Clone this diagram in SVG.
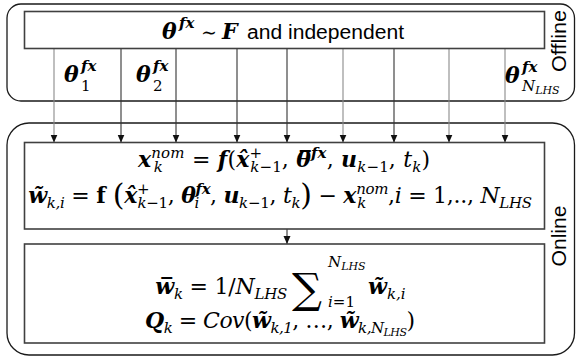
<svg xmlns="http://www.w3.org/2000/svg" width="576" height="358" viewBox="0 0 576 358">
<style>
.panel{fill:none;stroke:#1a1a1a;stroke-width:1.3}
.box{fill:#fff;stroke:#404040;stroke-width:1.6}
.conn{stroke:#333;stroke-width:1.1;fill:none}
.conn.g{stroke:#8a8a8a}
.m{font-family:"DejaVu Serif","Liberation Serif",serif;font-size:22px;fill:#000}
.bi{font-weight:bold;font-style:italic}
.b{font-weight:bold}
.i{font-style:italic}
.n{font-style:normal;font-weight:normal}
.s{font-size:15px}
.ss{font-size:11px}
.big{font-size:30px}
.side{font-family:"Liberation Sans",Arial,sans-serif;font-size:20px;fill:#000}
</style>
<defs>
<marker id="ah" markerUnits="userSpaceOnUse" markerWidth="8" markerHeight="8" viewBox="0 0 8 8" refX="8" refY="4" orient="auto">
<path d="M0,0.5 L8,4 L0,7.5 Z" fill="#111"/>
</marker>
</defs>

<g id="offline-panel">
<rect class="panel" x="7" y="4" width="567.5" height="97" rx="14"/>
<text class="side" transform="translate(566,41) rotate(-90)" text-anchor="middle" textLength="62" lengthAdjust="spacingAndGlyphs">Offline</text>
</g>

<g id="online-panel">
<rect class="panel" x="7" y="123" width="567.5" height="232" rx="22"/>
<text class="side" transform="translate(566,236) rotate(-90)" text-anchor="middle" textLength="61" lengthAdjust="spacingAndGlyphs">Online</text>
</g>

<g id="connectors">
<line class="conn g" x1="54" y1="48.5" x2="54" y2="142.5" marker-end="url(#ah)"/>
<line class="conn" x1="121" y1="48.5" x2="121" y2="142.5" marker-end="url(#ah)"/>
<line class="conn" x1="176" y1="48.5" x2="176" y2="142.5" marker-end="url(#ah)"/>
<line class="conn" x1="237" y1="48.5" x2="237" y2="142.5" marker-end="url(#ah)"/>
<line class="conn" x1="287" y1="48.5" x2="287" y2="142.5" marker-end="url(#ah)"/>
<line class="conn g" x1="343" y1="48.5" x2="343" y2="142.5" marker-end="url(#ah)"/>
<line class="conn" x1="394" y1="48.5" x2="394" y2="142.5" marker-end="url(#ah)"/>
<line class="conn g" x1="449" y1="48.5" x2="449" y2="142.5" marker-end="url(#ah)"/>
<line class="conn g" x1="505" y1="48.5" x2="505" y2="142.5" marker-end="url(#ah)"/>
<line class="conn" x1="287" y1="229" x2="287" y2="244" marker-end="url(#ah)"/>
</g>

<g id="sampling-box">
<rect class="box" x="24.5" y="11.5" width="520" height="37"/>
<text class="m bi" x="162" y="39">θ</text>
<text class="m s bi" x="179" y="28">fx</text>
<text class="m" x="201" y="39" style="font-size:19px">∼</text>
<text class="m bi" x="222" y="39">F</text>
<text class="side" x="247" y="39" textLength="157" lengthAdjust="spacingAndGlyphs">and independent</text>
</g>

<g id="sample-labels">
<text class="m bi" x="64" y="82">θ</text>
<text class="m s bi" x="81" y="71">fx</text>
<text class="m s" x="81" y="91">1</text>
<text class="m bi" x="136" y="82">θ</text>
<text class="m s bi" x="153" y="71">fx</text>
<text class="m s" x="153" y="91">2</text>
<text class="m bi" x="505" y="83">θ</text>
<text class="m s bi" x="522" y="72">fx</text>
<text class="m s i" x="522" y="91">N<tspan class="ss" dy="3">LHS</tspan></text>
</g>

<g id="nominal-box">
<rect class="box" x="24.5" y="142.5" width="520" height="86.5"/>
<text class="m" x="284" y="167" text-anchor="middle" textLength="292" lengthAdjust="spacing"><tspan class="bi">x</tspan><tspan class="s i" dy="-9">nom</tspan><tspan class="s i" dx="-31" dy="14">k</tspan><tspan dx="22" dy="-5"> = </tspan><tspan class="bi">f</tspan><tspan>(</tspan><tspan class="bi">x̂</tspan><tspan class="s" dy="-9">+</tspan><tspan class="s i" dx="-12" dy="14">k</tspan><tspan class="s">−1</tspan><tspan dy="-5">, </tspan><tspan class="bi">θ̅</tspan><tspan class="s bi" dy="-9">fx</tspan><tspan dy="9">, </tspan><tspan class="bi">u</tspan><tspan class="s i" dy="5">k</tspan><tspan class="s">−1</tspan><tspan dy="-5">, </tspan><tspan class="i">t</tspan><tspan class="s i" dy="5">k</tspan><tspan dy="-5">)</tspan></text>
<text class="m" x="280" y="203" text-anchor="middle" textLength="504" lengthAdjust="spacing"><tspan class="bi">w̃</tspan><tspan class="s i" dy="5">k,i</tspan><tspan dy="-5"> = </tspan><tspan class="b">f </tspan><tspan class="big" dy="2">(</tspan><tspan class="bi" dy="-2">x̂</tspan><tspan class="s" dy="-9">+</tspan><tspan class="s i" dx="-12" dy="14">k</tspan><tspan class="s">−1</tspan><tspan dy="-5">, </tspan><tspan class="bi">θ</tspan><tspan class="s bi" dy="-9">fx</tspan><tspan class="s i" dx="-16" dy="14">i</tspan><tspan dx="11" dy="-5">, </tspan><tspan class="bi">u</tspan><tspan class="s i" dy="5">k</tspan><tspan class="s">−1</tspan><tspan dy="-5">, </tspan><tspan class="i">t</tspan><tspan class="s i" dy="5">k</tspan><tspan class="big" dy="-3">)</tspan><tspan dy="-2"> − </tspan><tspan class="bi">x</tspan><tspan class="s i" dy="-9">nom</tspan><tspan class="s i" dx="-31" dy="14">k</tspan><tspan dx="22" dy="-5">,</tspan><tspan class="i">i</tspan><tspan> = 1,.., </tspan><tspan class="i">N</tspan><tspan class="s i" dy="5">LHS</tspan></text>
</g>

<g id="noise-box">
<rect class="box" x="24.5" y="244" width="520" height="99"/>
<text class="m" x="155" y="294" textLength="132" lengthAdjust="spacing"><tspan class="bi">w̅</tspan><tspan class="s i" dy="5">k</tspan><tspan dy="-5"> = 1/</tspan><tspan class="i">N</tspan><tspan class="s i" dy="5">LHS</tspan></text>
<text class="m" x="292" y="303" style="font-size:42px">∑</text>
<text class="m s i" x="328" y="267">N<tspan class="ss" dy="3">LHS</tspan></text>
<text class="m s i" x="328" y="307">i<tspan class="n">=1</tspan></text>
<text class="m" x="368" y="294"><tspan class="bi">w̃</tspan><tspan class="s i" dy="5">k,i</tspan></text>
<text class="m" x="280" y="328" text-anchor="middle" textLength="270" lengthAdjust="spacing"><tspan class="bi">Q</tspan><tspan class="s i" dy="5">k</tspan><tspan dy="-5"> = </tspan><tspan class="i">Cov</tspan><tspan>(</tspan><tspan class="bi">w̃</tspan><tspan class="s i" dy="5">k,1</tspan><tspan dy="-5">, …, </tspan><tspan class="bi">w̃</tspan><tspan class="s i" dy="5">k,N</tspan><tspan class="ss i" dy="3">LHS</tspan><tspan dy="-8">)</tspan></text>
</g>
</svg>
